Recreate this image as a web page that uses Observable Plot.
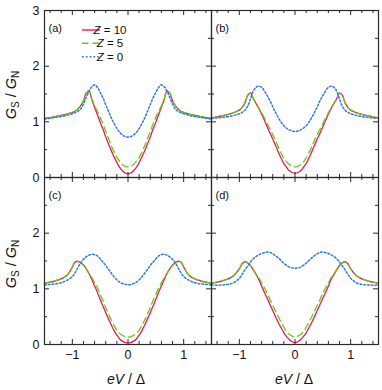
<!DOCTYPE html>
<html><head><meta charset="utf-8">
<script src="https://cdn.jsdelivr.net/npm/d3@7"></script>
<script src="https://cdn.jsdelivr.net/npm/@observablehq/plot@0.6"></script>
<style>
html,body{margin:0;padding:0;background:#fff;}
#wrap{position:relative;width:382px;height:390px;}
</style></head><body><div id="wrap"></div>
<script>
// eV/Δ grid
const xs = [-1.5,-1.4,-1.3,-1.2,-1.1,-1.0,-0.95,-0.9,-0.85,-0.8,-0.75,-0.7,-0.65,-0.6,-0.55,-0.5,-0.45,-0.4,-0.35,-0.3,-0.25,-0.2,-0.15,-0.1,-0.05,0,0.05,0.1,0.15,0.2,0.25,0.3,0.35,0.4,0.45,0.5,0.55,0.6,0.65,0.7,0.75,0.8,0.85,0.9,0.95,1.0,1.1,1.2,1.3,1.4,1.5];

const panelLabels = ["(a)","(b)","(c)","(d)"];
const panelCol = [0,1,0,1];
const panelRow = [0,0,1,1];
const seriesNames = ["Z = 10","Z = 5","Z = 0"];
const seriesColors = ["#e5195f","#5fd000","#2f78e8"];
const seriesDash = [null,"6.5,4","1.8,2"];

const aZ10 = [1.06,1.075,1.095,1.115,1.14,1.17,1.19,1.23,1.29,1.38,1.52,1.55,1.40,1.26,1.13,0.99,0.87,0.73,0.60,0.48,0.37,0.27,0.18,0.12,0.08,0.065,0.08,0.12,0.18,0.27,0.37,0.48,0.60,0.73,0.87,0.99,1.13,1.26,1.40,1.55,1.52,1.38,1.29,1.23,1.19,1.17,1.14,1.115,1.095,1.075,1.06];
const aZ5  = [1.06,1.075,1.095,1.115,1.14,1.17,1.19,1.23,1.29,1.38,1.51,1.54,1.41,1.29,1.19,1.08,0.96,0.83,0.70,0.57,0.46,0.36,0.29,0.235,0.20,0.19,0.20,0.235,0.29,0.36,0.46,0.57,0.70,0.83,0.96,1.08,1.19,1.29,1.41,1.54,1.51,1.38,1.29,1.23,1.19,1.17,1.14,1.115,1.095,1.075,1.06];
const aZ0  = [1.05,1.065,1.08,1.095,1.115,1.145,1.165,1.19,1.23,1.32,1.44,1.55,1.63,1.665,1.62,1.53,1.43,1.31,1.19,1.07,0.97,0.88,0.81,0.765,0.735,0.725,0.735,0.765,0.81,0.88,0.97,1.07,1.19,1.31,1.43,1.53,1.62,1.665,1.63,1.55,1.44,1.32,1.23,1.19,1.165,1.145,1.115,1.095,1.08,1.065,1.05];

const bZ10 = [1.07,1.09,1.11,1.135,1.165,1.21,1.26,1.34,1.48,1.52,1.42,1.33,1.24,1.14,1.03,0.91,0.80,0.69,0.58,0.46,0.35,0.25,0.18,0.12,0.09,0.08,0.09,0.12,0.18,0.25,0.35,0.46,0.58,0.69,0.80,0.91,1.03,1.14,1.24,1.33,1.42,1.52,1.48,1.34,1.26,1.21,1.165,1.135,1.11,1.09,1.07];
const bZ5  = [1.07,1.09,1.11,1.135,1.165,1.21,1.26,1.34,1.47,1.51,1.42,1.34,1.25,1.165,1.07,0.97,0.87,0.77,0.67,0.55,0.44,0.35,0.28,0.235,0.20,0.19,0.20,0.235,0.28,0.35,0.44,0.55,0.67,0.77,0.87,0.97,1.07,1.165,1.25,1.34,1.42,1.51,1.47,1.34,1.26,1.21,1.165,1.135,1.11,1.09,1.07];
const bZ0  = [1.065,1.07,1.08,1.095,1.115,1.145,1.17,1.21,1.28,1.41,1.55,1.62,1.64,1.62,1.555,1.47,1.38,1.27,1.17,1.075,0.995,0.93,0.885,0.855,0.835,0.825,0.835,0.855,0.885,0.93,0.995,1.075,1.17,1.27,1.38,1.47,1.555,1.62,1.64,1.62,1.55,1.41,1.28,1.21,1.17,1.145,1.115,1.095,1.08,1.07,1.065];

const cZ10 = [1.10,1.12,1.145,1.18,1.24,1.39,1.48,1.495,1.47,1.43,1.36,1.27,1.17,1.05,0.94,0.81,0.69,0.57,0.46,0.35,0.25,0.17,0.10,0.06,0.035,0.03,0.035,0.06,0.10,0.17,0.25,0.35,0.46,0.57,0.69,0.81,0.94,1.05,1.17,1.27,1.36,1.43,1.47,1.495,1.48,1.39,1.24,1.18,1.145,1.12,1.10];
const cZ5  = [1.10,1.12,1.145,1.18,1.24,1.39,1.48,1.49,1.46,1.42,1.36,1.28,1.20,1.11,1.02,0.90,0.79,0.66,0.55,0.44,0.34,0.26,0.20,0.165,0.14,0.13,0.14,0.165,0.20,0.26,0.34,0.44,0.55,0.66,0.79,0.90,1.02,1.11,1.20,1.28,1.36,1.42,1.46,1.49,1.48,1.39,1.24,1.18,1.145,1.12,1.10];
const cZ0  = [1.07,1.08,1.09,1.11,1.15,1.22,1.29,1.38,1.47,1.53,1.575,1.605,1.62,1.615,1.59,1.54,1.48,1.42,1.35,1.28,1.215,1.16,1.12,1.095,1.08,1.075,1.08,1.095,1.12,1.16,1.215,1.28,1.35,1.42,1.48,1.54,1.59,1.615,1.62,1.605,1.575,1.53,1.47,1.38,1.29,1.22,1.15,1.11,1.09,1.08,1.07];

const dZ10 = [1.10,1.12,1.145,1.18,1.24,1.36,1.45,1.49,1.47,1.42,1.34,1.26,1.17,1.05,0.94,0.83,0.72,0.61,0.50,0.395,0.30,0.21,0.14,0.085,0.05,0.035,0.05,0.085,0.14,0.21,0.30,0.395,0.50,0.61,0.72,0.83,0.94,1.05,1.17,1.26,1.34,1.42,1.47,1.49,1.45,1.36,1.24,1.18,1.145,1.12,1.10];
const dZ5  = [1.10,1.12,1.145,1.18,1.24,1.36,1.45,1.48,1.46,1.42,1.35,1.27,1.20,1.11,1.02,0.92,0.81,0.70,0.60,0.50,0.40,0.31,0.23,0.18,0.15,0.13,0.15,0.18,0.23,0.31,0.40,0.50,0.60,0.70,0.81,0.92,1.02,1.11,1.20,1.27,1.35,1.42,1.46,1.48,1.45,1.36,1.24,1.18,1.145,1.12,1.10];
const dZ0  = [1.07,1.065,1.07,1.08,1.11,1.19,1.26,1.34,1.41,1.48,1.54,1.58,1.61,1.635,1.65,1.66,1.655,1.63,1.595,1.555,1.51,1.46,1.42,1.39,1.375,1.37,1.375,1.39,1.42,1.46,1.51,1.555,1.595,1.63,1.655,1.66,1.65,1.635,1.61,1.58,1.54,1.48,1.41,1.34,1.26,1.19,1.11,1.08,1.07,1.065,1.07];

const xTickLabels = [-1,0,1];
const xMinorTicks = [-1.4,-1.2,-0.8,-0.6,-0.4,-0.2,0.2,0.4,0.6,0.8,1.2,1.4];
const yTicks = [0,1,2,3];
const yTickLabelsTop = [0,1,2,3];
const yTickLabelsBottom = [0,1,2];
const yMinorTicks = [0.5,1.5,2.5];

const seriesValues = [[aZ10,aZ5,aZ0],[bZ10,bZ5,bZ0],[cZ10,cZ5,cZ0],[dZ10,dZ5,dZ0]];

const rows = [];
panelLabels.forEach((p,i)=>seriesNames.forEach((s,j)=>xs.forEach((x,k)=>rows.push({panel:p,col:panelCol[i],row:panelRow[i],series:s,x,y:seriesValues[i][j][k]}))));
const panelTable = panelLabels.map((p,i)=>({label:p,col:panelCol[i],row:panelRow[i]}));
const yLabelRows = [
  ...yTickLabelsTop.map(v=>({v,row:0,col:0})),
  ...yTickLabelsBottom.map(v=>({v,row:1,col:0}))
];

const AX = "#2a2a2a";
const majX = 0.09, minX = 0.055; // tick lengths in x units
const majY = 0.09, minY = 0.055; // tick lengths in y units
const tickOpts = {stroke: AX, strokeWidth: 1};
const fmt = d => d < 0 ? "\u2212" + (-d) : String(d);

const lineMarks = seriesNames.map((s,j)=>Plot.line(rows.filter(r=>r.series===s),{
  x:"x", y:"y", fx:"col", fy:"row", z:"panel",
  stroke: seriesColors[j], strokeWidth: j===2 ? 1.5 : 1.3,
  strokeDasharray: seriesDash[j] ?? undefined, curve:"catmull-rom"
}));

const chart = Plot.plot({
  width: 382, height: 390,
  marginLeft: 43, marginRight: 4, marginTop: 9, marginBottom: 46,
  style: {fontFamily: "'Liberation Sans', Arial, sans-serif", background: "white"},
  fx: {domain:[0,1], padding:0, axis:null},
  fy: {domain:[0,1], padding:0, axis:null},
  x: {domain:[-1.5,1.5]},
  y: {domain:[0,3], axis:null},
  marks: [
    ...lineMarks,
    // inward ticks, all four sides of each panel
    Plot.ruleX(xTickLabels,{x:d=>d, y1:0, y2:majY, ...tickOpts}),
    Plot.ruleX(xTickLabels,{x:d=>d, y1:3-majY, y2:3, ...tickOpts}),
    Plot.ruleX(xMinorTicks,{x:d=>d, y1:0, y2:minY, ...tickOpts}),
    Plot.ruleX(xMinorTicks,{x:d=>d, y1:3-minY, y2:3, ...tickOpts}),
    Plot.ruleY(yTicks,{y:d=>d, x1:-1.5, x2:-1.5+majX, ...tickOpts}),
    Plot.ruleY(yTicks,{y:d=>d, x1:1.5-majX, x2:1.5, ...tickOpts}),
    Plot.ruleY(yMinorTicks,{y:d=>d, x1:-1.5, x2:-1.5+minX, ...tickOpts}),
    Plot.ruleY(yMinorTicks,{y:d=>d, x1:1.5-minX, x2:1.5, ...tickOpts}),
    Plot.frame({stroke: AX, strokeWidth: 1.2}),
    Plot.axisX({ticks: xTickLabels, tickSize: 0, tickPadding: 6, fontSize: 12.5, label: null, fill: "#111", tickFormat: fmt}),
    Plot.text(yLabelRows,{y:"v", fx:"col", fy:"row", text:d=>fmt(d.v), frameAnchor:"left", dx:-5, textAnchor:"end", fontSize:12.5, fill:"#111"}),
    Plot.text(panelTable,{fx:"col", fy:"row", text:"label", frameAnchor:"top-left", dx:4, dy:14, fontSize:11, textAnchor:"start", fill:"#111"})
  ]
});
document.getElementById("wrap").appendChild(chart);

// axis titles and legend
const svg = d3.select(chart);
const ff = "'Liberation Sans', Arial, sans-serif";
function yLabel(cy){
  const t = svg.append("text").attr("transform",`translate(16,${cy}) rotate(-90)`)
    .attr("text-anchor","middle").attr("font-family",ff).attr("font-size",14.5).attr("fill","#111");
  t.append("tspan").attr("font-style","italic").text("G");
  t.append("tspan").attr("font-size",10).attr("dy",3).text("S");
  t.append("tspan").attr("dy",-3).text(" / ");
  t.append("tspan").attr("font-style","italic").text("G");
  t.append("tspan").attr("font-size",10).attr("dy",3).text("N");
}
yLabel(95); yLabel(264);
function xLabel(cx){
  const t = svg.append("text").attr("x",cx).attr("y",384)
    .attr("text-anchor","middle").attr("font-family",ff).attr("font-size",14).attr("fill","#111");
  t.append("tspan").attr("font-style","italic").text("eV");
  t.append("tspan").text(" / Δ");
}
xLabel(126); xLabel(294);

const legRowsY = [30,43.3,56.7];
seriesNames.forEach((s,j)=>{
  const y = legRowsY[j];
  const ln = svg.append("line").attr("x1",82).attr("x2",100).attr("y1",y).attr("y2",y)
    .attr("stroke",seriesColors[j]).attr("stroke-width", j===2?1.5:1.4);
  if (seriesDash[j]) ln.attr("stroke-dasharray",seriesDash[j]);
  const t = svg.append("text").attr("x",110).attr("y",y+4).attr("font-family",ff).attr("font-size",11.5).attr("fill","#111");
  const parts = s.split(" ");
  t.append("tspan").attr("font-style","italic").text(parts[0]);
  t.append("tspan").text(" " + parts.slice(1).join(" "));
});
</script></body></html>
